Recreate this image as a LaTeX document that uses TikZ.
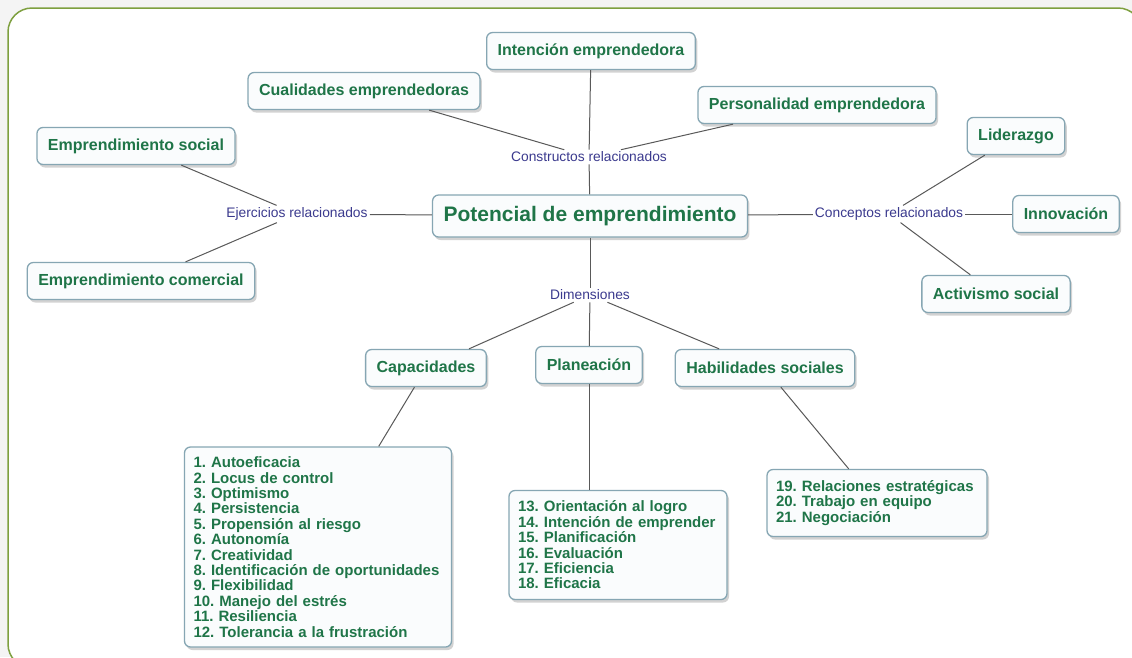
\documentclass[tikz,border=0pt]{standalone}
\usepackage{fontspec}
\setmainfont{Liberation Sans}
\usepackage{tikz}
\usetikzlibrary{shadows,positioning}
\definecolor{verdetxt}{HTML}{1F7548}
\definecolor{azulenl}{HTML}{3B3A8E}
\definecolor{bordecaja}{HTML}{86A6B3}
\definecolor{fondocaja}{HTML}{FAFCFD}
\definecolor{verdemarco}{HTML}{7EA040}
\definecolor{grisfondo}{HTML}{F4F4F4}
\tikzstyle{concepto}=[draw=bordecaja, fill=fondocaja, line width=1.3pt,
  rounded corners=6pt, text=verdetxt, font=\bfseries\fontsize{16}{18}\selectfont,
  inner xsep=11pt, minimum height=37pt,
  drop shadow={shadow xshift=2pt, shadow yshift=-3pt, opacity=0.35}]
\tikzstyle{central}=[concepto, font=\bfseries\fontsize{21}{24}\selectfont, minimum height=42pt]
\tikzstyle{lista}=[concepto, font=\bfseries\fontsize{15}{15.4}\selectfont,
  align=left, inner xsep=9pt]
\tikzstyle{enlace}=[text=azulenl, font=\fontsize{13.8}{16}\selectfont, inner sep=2pt]
\tikzstyle{linea}=[draw, line width=1pt, color=black!65]
\tikzstyle{marco}=[draw=verdemarco, line width=1.5pt, fill=white, rounded corners=24pt]
\newcommand{\concepto}[2]{node (#1)[concepto]{#2}}
\newcommand{\enlace}[2]{node (#1)[enlace]{#2}}

\begin{document}
\frenchspacing
\hyphenpenalty=10000
\begin{tikzpicture}[x=1pt,y=-1pt]

	% Fondo y marco
	\clip (0,0) rectangle (1132,657);
	\fill [grisfondo] (0,0) rectangle (1132,657);
	\path [marco] (8,8) rectangle (1142,668);

	% Nodo central y constructos
	\path (590,216) node (pot)[central]{Potencial de emprendimiento};
	\path (pot)+(-1,-59) \enlace{lcons}{Constructos relacionados};
	\path (pot)+(1,-165) \concepto{inte}{Intención emprendedora};
	\path (pot)+(-226,-125) \concepto{cual}{Cualidades emprendedoras};
	\path (pot)+(227,-111) \concepto{pers}{Personalidad emprendedora};

	% Ejercicios
	\path (pot)+(-293,-2) \enlace{lejer}{Ejercicios relacionados};
	\path (lejer)+(-161,-68) \concepto{esoc}{Emprendimiento social};
	\path (lejer)+(-156,67) \concepto{ecom}{Emprendimiento comercial};

	% Conceptos
	\path (pot)+(299,-2) \enlace{lconc}{Conceptos relacionados};
	\path (lconc)+(127,-78) \concepto{lid}{Liderazgo};
	\path (lconc)+(177,0) \concepto{inn}{Innovación};
	\path (lconc)+(107,80) \concepto{act}{Activismo social};

	% Dimensiones
	\path (pot)+(0,79) \enlace{ldim}{Dimensiones};
	\path (ldim)+(-164,73) \concepto{cap}{Capacidades};
	\path (ldim)+(-1,70) \concepto{plan}{Planeación};
	\path (ldim)+(175,73) \concepto{hab}{Habilidades sociales};

	\path (cap)+(-108,179) node (lcap)[lista, text width=249pt, minimum height=200pt]{%
		1. Autoeficacia\\ 2. Locus de control\\ 3. Optimismo\\ 4. Persistencia\\
		5. Propensión al riesgo\\ 6. Autonomía\\ 7. Creatividad\\
		8. Identificación de oportunidades\\ 9. Flexibilidad\\ 10. Manejo del estrés\\
		11. Resiliencia\\ 12. Tolerancia a la frustración};
	\path (plan)+(29,180) node (lplan)[lista, text width=200pt, minimum height=109pt]{%
		13. Orientación al logro\\ 14. Intención de emprender\\ 15. Planificación\\
		16. Evaluación\\ 17. Eficiencia\\ 18. Eficacia};
	\path (hab)+(112,135) node (lhab)[lista, text width=202pt, minimum height=67pt]{%
		19. Relaciones estratégicas\\ 20. Trabajo en equipo\\ 21. Negociación};

	% Conectores
	\path [linea] (inte) -- (lcons);
	\path [linea] (cual) -- (lcons);
	\path [linea] (pers) -- (lcons);
	\path [linea] (lcons) -- (pot);

	\path [linea] (esoc) -- (lejer);
	\path [linea] (ecom) -- (lejer);
	\path [linea] (lejer) -- (pot);

	\path [linea] (pot) -- (lconc);
	\path [linea] (lconc) -- (lid);
	\path [linea] (lconc) -- (inn);
	\path [linea] (lconc) -- (act);

	\path [linea] (pot) -- (ldim);
	\path [linea] (ldim) -- (cap);
	\path [linea] (ldim) -- (plan);
	\path [linea] (ldim) -- (hab);

	\path [linea] (cap) -- (lcap);
	\path [linea] (plan) -- (plan |- lplan.north);
	\path [linea] (hab) -- (lhab);

\end{tikzpicture}
\end{document}
